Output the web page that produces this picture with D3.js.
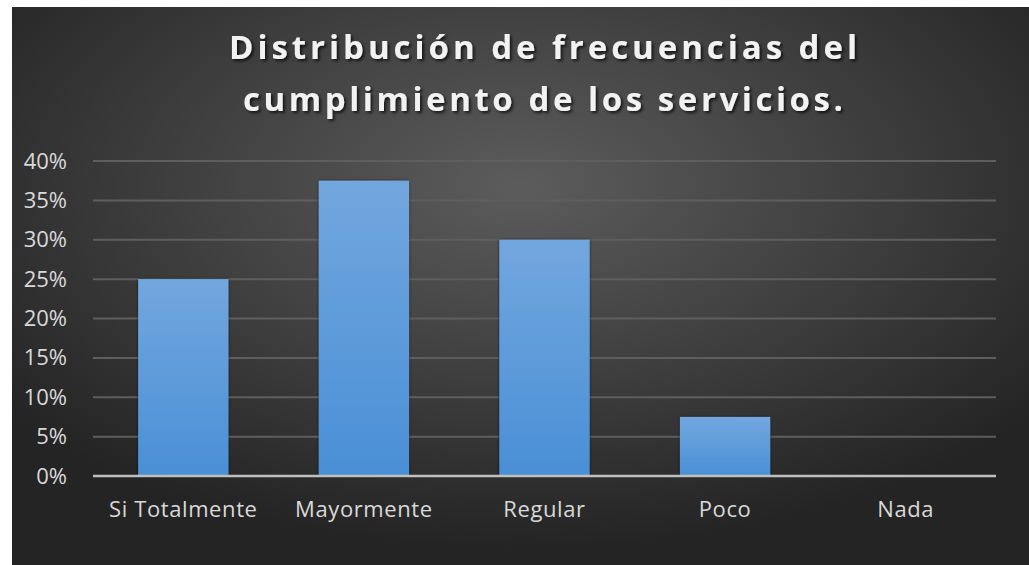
<!DOCTYPE html>
<html>
<head>
<meta charset="utf-8">
<script src="https://cdn.jsdelivr.net/npm/d3@7"></script>
<style>
  body { margin: 0; background: #fff; }
</style>
</head>
<body>
<div id="chart"></div>
<script>
const categories = ['Si Totalmente', 'Mayormente', 'Regular', 'Poco', 'Nada'];
const values = [0.25, 0.375, 0.30, 0.075, 0];
const yTicks = [0, 0.05, 0.10, 0.15, 0.20, 0.25, 0.30, 0.35, 0.40];
const titleLines = ['Distribución de frecuencias del', 'cumplimiento de los servicios.'];

let W = 1029, H = 565;
let margin = { top: 161, right: 33, bottom: 89, left: 93 },
  width = W - margin.left - margin.right,
  height = H - margin.top - margin.bottom;

let svg = d3.select('#chart').append('svg')
  .attr('width', W)
  .attr('height', H);

let defs = svg.append('defs');

let bg = defs.append('radialGradient')
  .attr('id', 'bg')
  .attr('cx', '50%').attr('cy', '32%').attr('r', '65%');
bg.append('stop').attr('offset', '0%').attr('stop-color', '#5c5c5c');
bg.append('stop').attr('offset', '100%').attr('stop-color', '#242424');

let barGrad = defs.append('linearGradient')
  .attr('id', 'bar')
  .attr('x1', 0).attr('y1', 0).attr('x2', 0).attr('y2', 1);
barGrad.append('stop').attr('offset', '0%').attr('stop-color', '#72a7de');
barGrad.append('stop').attr('offset', '100%').attr('stop-color', '#4a8fd6');

let shadow = defs.append('filter').attr('id', 'shadow')
  .attr('x', '-10%').attr('y', '-20%').attr('width', '130%').attr('height', '150%');
shadow.append('feDropShadow')
  .attr('dx', 2).attr('dy', 2).attr('stdDeviation', 1.5)
  .attr('flood-color', '#000').attr('flood-opacity', 0.7);

let barShadow = defs.append('filter').attr('id', 'barShadow')
  .attr('x', '-10%').attr('y', '-10%').attr('width', '120%').attr('height', '120%');
barShadow.append('feDropShadow')
  .attr('dx', 0).attr('dy', 0).attr('stdDeviation', 1.5)
  .attr('flood-color', '#111').attr('flood-opacity', 0.6);

// chart area
svg.append('rect')
  .attr('x', 12).attr('y', 7)
  .attr('width', W - 12).attr('height', H - 7)
  .attr('fill', 'url(#bg)');

// title
let title = svg.append('g')
  .attr('font-family', '"Open Sans", sans-serif')
  .attr('font-weight', 'bold')
  .attr('font-size', 33)
  .attr('fill', '#f2f2f2')
  .attr('text-anchor', 'middle')
  .attr('filter', 'url(#shadow)');

title.selectAll('text')
  .data(titleLines)
  .join('text')
  .attr('x', 543)
  .attr('y', (d, i) => 59 + i * 52)
  .attr('textLength', (d, i) => (i === 0 ? 628 : 600))
  .attr('lengthAdjust', 'spacing')
  .text((d) => d);

let xScale = d3.scaleBand()
  .domain(categories)
  .range([0, width])
  .paddingInner(0.5)
  .paddingOuter(0.25);

let yScale = d3.scaleLinear()
  .domain([0, 0.4])
  .range([height, 0]);

let vis = svg.append('g')
  .attr('transform', 'translate(' + margin.left + ',' + margin.top + ')');

// gridlines
vis.append('g')
  .selectAll('line')
  .data(yTicks.filter((d) => d > 0))
  .join('line')
  .attr('x1', 0).attr('x2', width)
  .attr('y1', (d) => yScale(d)).attr('y2', (d) => yScale(d))
  .attr('stroke', '#5e5e5e')
  .attr('stroke-width', 2);

// bars
vis.append('g')
  .selectAll('rect')
  .data(values)
  .join('rect')
  .attr('x', (d, i) => xScale(categories[i]))
  .attr('y', (d) => yScale(d))
  .attr('width', xScale.bandwidth())
  .attr('height', (d) => height - yScale(d))
  .attr('fill', 'url(#bar)')
  .attr('filter', 'url(#barShadow)');

// baseline
vis.append('line')
  .attr('x1', 0).attr('x2', width)
  .attr('y1', yScale(0)).attr('y2', yScale(0))
  .attr('stroke', '#bfbfbf')
  .attr('stroke-width', 2.5);

let yAxis = d3.axisLeft(yScale)
  .tickValues(yTicks)
  .tickFormat(d3.format('.0%'))
  .tickSize(0)
  .tickPadding(26);

vis.append('g')
  .call(yAxis)
  .call((g) => g.select('.domain').remove())
  .selectAll('text')
  .attr('font-family', '"Open Sans", sans-serif')
  .attr('font-size', 22)
  .attr('fill', '#d9d9d9');

let xAxis = d3.axisBottom(xScale)
  .tickSize(0)
  .tickPadding(25);

vis.append('g')
  .attr('transform', 'translate(0,' + height + ')')
  .call(xAxis)
  .call((g) => g.select('.domain').remove())
  .selectAll('text')
  .attr('font-family', '"Open Sans", sans-serif')
  .attr('font-size', 22)
  .attr('letter-spacing', 0.6)
  .attr('fill', '#d9d9d9');
</script>
</body>
</html>
